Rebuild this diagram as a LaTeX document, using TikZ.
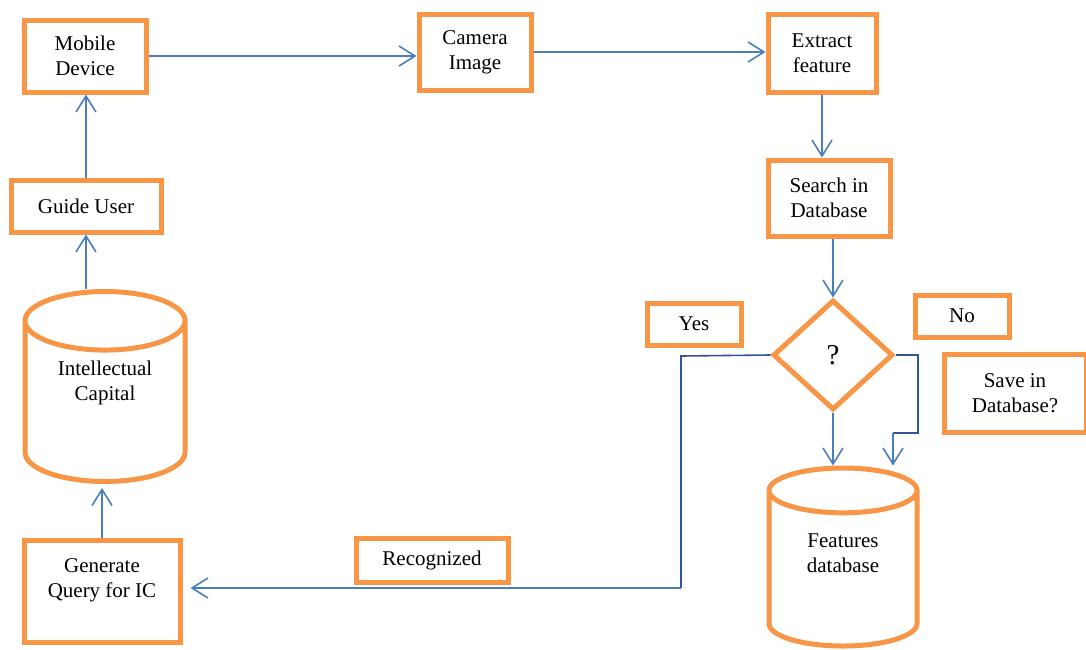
\documentclass[tikz,border=0pt]{standalone}
\usepackage{fontspec}
\setmainfont{Liberation Serif}
\usepackage{xcolor}
\usepackage{tikz}
\usetikzlibrary{arrows.meta,positioning,shapes.geometric}
\definecolor{boxorange}{HTML}{F79646}
\definecolor{flowblue}{HTML}{4A7EBB}
\definecolor{darkblue}{HTML}{2F5597}

\begin{document}
\begin{tikzpicture}
		[x=0.5pt,y=-0.5pt,
		every node/.style={font=\fontsize{10.5}{12.5}\selectfont,align=center},
		stepbox/.style={draw=boxorange,line width=2.5pt,rectangle,inner sep=0pt},
		store/.style={draw=boxorange,line width=2.5pt,cylinder,shape border rotate=90,aspect=0.62,inner sep=0pt,anchor=shape center},
		test/.style={draw=boxorange,line width=2.5pt,diamond,inner sep=0pt},
		flow/.style={draw=flowblue,line width=0.8pt,-{Straight Barb[length=8pt,width=10pt]}},
		branch/.style={draw=darkblue,line width=0.8pt}]
		\useasboundingbox (0,0) rectangle (1086,649);
		% boxes
		\node[stepbox,minimum width=61pt,minimum height=36pt] (mobile) at (85,56) {Mobile\\Device};
		\node[stepbox,minimum width=56pt,minimum height=38pt] (camera) at (475,52) {Camera\\Image};
		\node[stepbox,minimum width=54pt,minimum height=39pt] (extract) at (822,53) {Extract\\feature};
		\node[stepbox,minimum width=61pt,minimum height=38pt] (search) at (829,198) {Search in\\Database};
		\node[stepbox,minimum width=75pt,minimum height=26pt] (guide) at (86,206) {Guide User};
		\node[stepbox,minimum width=78pt,minimum height=51pt] (query) at (102,591) {Generate\\Query for IC\\~};
		\node[stepbox,minimum width=47pt,minimum height=21pt] (yes) at (694,324) {Yes};
		\node[stepbox,minimum width=47pt,minimum height=21pt] (no) at (962,316) {No};
		\node[stepbox,minimum width=71pt,minimum height=39pt] (save) at (1015,393) {Save in\\Database?};
		\node[stepbox,minimum width=76pt,minimum height=22pt] (recog) at (432,560) {Recognized};
		% stores and test
		\node[store,minimum width=80pt,minimum height=95pt,text depth=22pt] (ic) at (105,386.5) {Intellectual\\Capital};
		\node[store,minimum width=74pt,minimum height=89pt,text depth=16pt] (feat) at (843,557) {Features\\database};
		\node[test,minimum width=60pt,minimum height=55pt] (q) at (833,355) {\Large ?};
		% bends
		\coordinate (noturn) at (918,433);
		\coordinate (nodrop) at (893,433);
		\coordinate (yesturn) at (681,356);
		\coordinate (yesdown) at (681,588);
		% connectors
		\draw[flow] (mobile.east) -- (mobile.east -| camera.west);
		\draw[flow] (camera.east) -- (camera.east -| extract.west);
		\draw[flow] (extract.south) -- (extract.south |- search.north);
		\draw[flow] (q.north |- search.south) -- (q.north);
		\draw[flow] (q.south) -- (q.south |- feat.north);
		\draw[branch] (q.east) -| (noturn) -- (nodrop);
		\draw[flow] (nodrop) -- (nodrop |- feat.north);
		\draw[branch] (q.west) -- (yesturn) -- (yesdown);
		\draw[flow,shorten >=4pt] (yesdown) -- (yesdown -| query.east);
		\draw[flow,shorten >=2pt] (query.north) -- (query.north |- ic.south);
		\draw[flow] (guide.south |- ic.north) -- (guide.south);
		\draw[flow] (guide.north) -- (guide.north |- mobile.south);
\end{tikzpicture}
\end{document}
